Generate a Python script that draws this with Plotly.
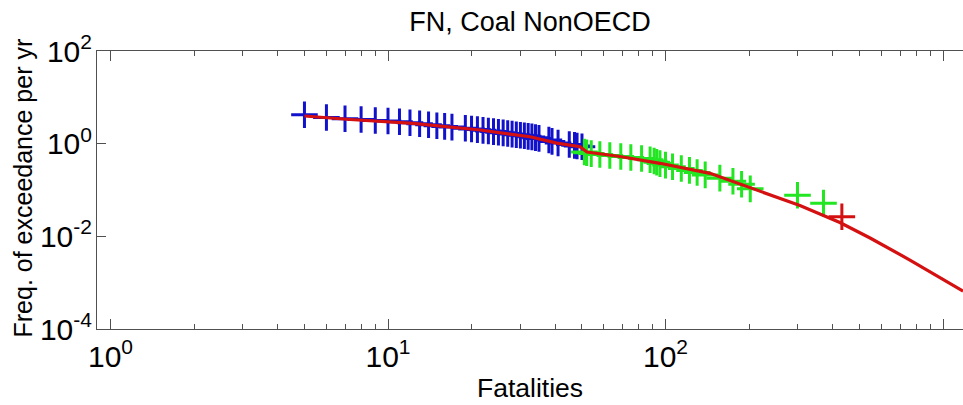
import plotly.graph_objects as go

# ---- data ----
blue_x = [5, 6, 7, 8, 9, 10, 11, 12, 13, 14, 15, 16, 17, 19, 20, 21, 22, 23, 24, 25,
          26, 27, 28, 29, 30, 31, 32, 33, 34, 35, 38, 39, 41, 45, 47, 48, 50]
blue_y = [4.22, 3.67, 3.46, 3.32, 3.16, 3.08, 2.98, 2.82, 2.70, 2.56, 2.44, 2.36, 2.28,
          2.15, 2.08, 2.01, 1.94, 1.88, 1.82, 1.76, 1.71, 1.66, 1.61, 1.56, 1.52, 1.48,
          1.44, 1.40, 1.35, 1.30, 1.20, 1.12, 1.03, 0.96, 0.92, 0.89, 0.86]

green_x = [51, 52, 54, 58, 63, 69, 75, 82, 88, 91, 93, 95.5, 100, 106, 114, 122, 130,
           139, 157, 175, 188, 202, 299, 371]
green_y = [0.663, 0.637, 0.61, 0.584, 0.557, 0.53, 0.504, 0.477, 0.451, 0.424, 0.398,
           0.371, 0.345, 0.318, 0.292, 0.265, 0.239, 0.212, 0.18, 0.155, 0.133, 0.106,
           0.077, 0.052]

red_x = [432]
red_y = [0.0265]

fit_x = [5, 7.3, 12.3, 21.5, 32.5, 40.6, 49.2, 52.1, 68.5, 95.5, 144.7, 219, 305,
         425, 546, 760, 1181]
fit_y = [3.95, 3.32, 2.75, 1.97, 1.41, 1.03, 0.86, 0.661, 0.528, 0.377, 0.229, 0.0951,
         0.0462, 0.0199, 0.0092, 0.00308, 0.00066]

x_major = [1, 10, 100, 1000]
x_major_text = ["10<sup>0</sup>", "10<sup>1</sup>", "10<sup>2</sup>", "10<sup>3</sup>"]
x_minor = [2, 3, 4, 5, 6, 7, 8, 9, 20, 30, 40, 50, 60, 70, 80, 90,
           200, 300, 400, 500, 600, 700, 800, 900]
y_major = [1e-4, 1e-2, 1, 100]
y_major_text = ["10<sup>-4</sup>", "10<sup>-2</sup>", "10<sup>0</sup>", "10<sup>2</sup>"]

BLUE = "#1212cc"
GREEN = "#22e622"
RED = "#d41010"
AXIS = "#505050"
FONT = "Liberation Sans, Arial, sans-serif"

fig = go.Figure()
for xs, ys, col in [(blue_x, blue_y, BLUE), (green_x, green_y, GREEN), (red_x, red_y, RED)]:
    fig.add_trace(go.Scatter(
        x=xs, y=ys, mode="markers",
        marker=dict(symbol="cross-thin", size=19, color=col,
                    line=dict(width=3, color=col)),
        showlegend=False, hoverinfo="x+y"))

fig.add_trace(go.Scatter(x=fit_x, y=fit_y, mode="lines",
                         line=dict(color=RED, width=3.2),
                         showlegend=False))

fig.update_layout(
    width=963, height=405,
    margin=dict(l=97, r=0, t=51, b=76),
    paper_bgcolor="white", plot_bgcolor="white",
    font=dict(family=FONT, color="black", size=26),
    title=dict(text="FN, Coal NonOECD", x=0.5, xref="paper", xanchor="center",
               y=1 - 22 / 405, yref="container", yanchor="middle",
               font=dict(size=27, family=FONT, color="black")),
    annotations=[
        dict(text="Fatalities", xref="paper", yref="paper",
             x=0.5, y=-(388 - 329) / 278, xanchor="center", yanchor="middle",
             showarrow=False, borderpad=0,
             font=dict(size=26.5, family=FONT, color="black")),
        dict(text="Freq. of exceedance per yr", xref="paper", yref="paper",
             x=(22 - 97) / 866, y=(329 - 188.5) / 278, xanchor="center",
             yanchor="middle", textangle=-90, showarrow=False, borderpad=0,
             font=dict(size=25, family=FONT, color="black")),
    ],
)

fig.update_xaxes(
    type="log", range=[-0.0486, 3.072], automargin=False,
    tickvals=x_major, ticktext=x_major_text,
    ticks="inside", ticklen=10, tickwidth=1, tickcolor=AXIS,
    minor=dict(tickvals=x_minor, ticks="inside", ticklen=5, tickwidth=1,
               tickcolor=AXIS, showgrid=False),
    showline=True, linecolor=AXIS, linewidth=1, mirror="ticks",
    showgrid=False, zeroline=False,
    tickfont=dict(size=30, family=FONT, color="black"),
    ticklabelstandoff=1,
)

fig.update_yaxes(
    type="log", range=[-4, 2], automargin=False,
    tickvals=y_major, ticktext=y_major_text,
    ticks="inside", ticklen=9, tickwidth=1, tickcolor=AXIS,
    showline=True, linecolor=AXIS, linewidth=1, mirror=False,
    showgrid=False, zeroline=False,
    tickfont=dict(size=30, family=FONT, color="black"),
    ticklabelstandoff=-2,
)

fig.write_html("out.html", config={"displayModeBar": False},
               post_script="document.body.style.margin='0';")
